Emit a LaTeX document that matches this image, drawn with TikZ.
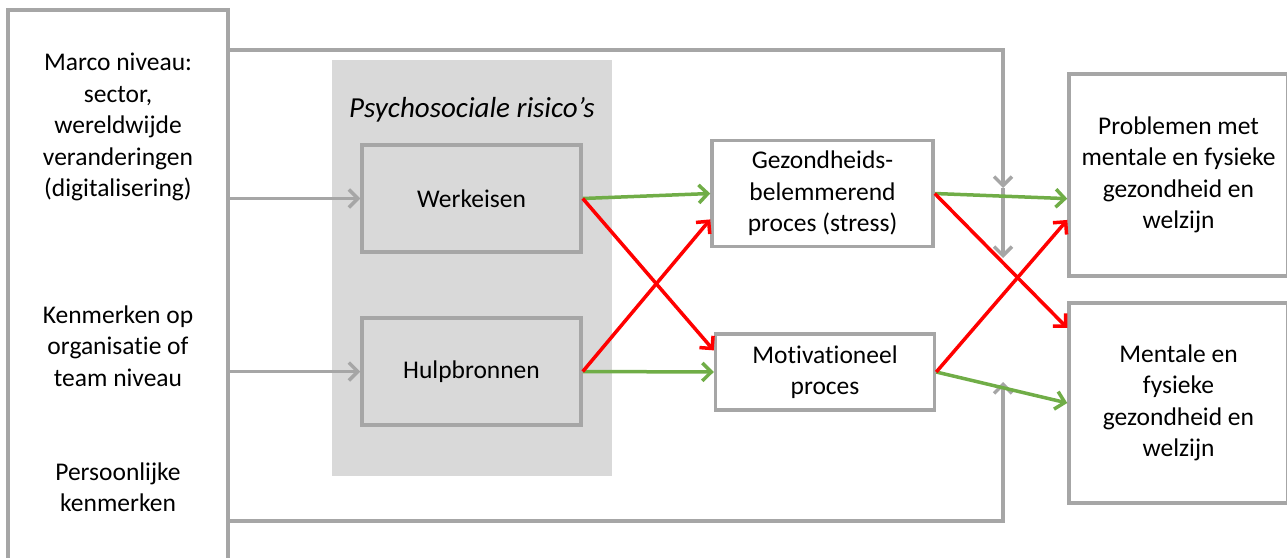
\documentclass[tikz,border=0pt]{standalone}
\usepackage{fontspec}
\setmainfont{Carlito}[Ligatures=NoCommon]
\usetikzlibrary{arrows.meta}

\definecolor{lijngrijs}{HTML}{A6A6A6}
\definecolor{vlakgrijs}{HTML}{D9D9D9}
\definecolor{pijlgroen}{HTML}{70AD47}
\definecolor{pijlrood}{HTML}{FF0000}

\begin{document}
\begin{tikzpicture}[x=1pt, y=-1pt,
		font=\fontsize{25.5}{31.5}\selectfont,
		kader/.style={draw=lijngrijs, line width=3.5pt, align=center, inner sep=0pt},
		tekst/.style={align=center, inner sep=0pt},
		grijspijl/.style={draw=lijngrijs, line width=3.5pt, -{Straight Barb[length=9pt, width=18pt]}},
		groenpijl/.style={draw=pijlgroen, line width=3.5pt, -{Straight Barb[length=9pt, width=18pt]}},
		roodpijl/.style={draw=pijlrood, line width=3.5pt, -{Straight Barb[length=9pt, width=18pt]}}]
		
		%picture frame
		\useasboundingbox (0,0) rectangle (1287,557);
		\clip (0,0) rectangle (1287,557);
		
		%definition of bends in the grey lines
		\coordinate (topbend) at (1003,50);
		\coordinate (mod1) at (1003,188);
		\coordinate (mod2) at (1003,258);
		\coordinate (botbend) at (1003,521);
		\coordinate (mod3) at (1003,382);
		
		%shaded area
		\fill [vlakgrijs] (332,60) rectangle (612,476);
		\node [tekst, font=\fontsize{29}{34}\selectfont\itshape] (risico) at (472,110) {Psychosociale risico’s};
		
		%left column
		\node [kader, minimum width=220, minimum height=600] (factoren) at (118,310) {};
		\node [tekst] (macro) at (118,127) {Marco niveau:\\sector,\\wereldwijde\\veranderingen\\(digitalisering)};
		\node [tekst] (organisatie) at (118,346) {Kenmerken op\\organisatie of\\team niveau};
		\node [tekst] (persoon) at (118,487) {Persoonlijke\\kenmerken};
		
		%boxes
		\node [kader, minimum width=219, minimum height=107] (werk) at (471.5,198.5) {Werkeisen};
		\node [kader, minimum width=219, minimum height=107] (hulp) at (471.5,371.5) {Hulpbronnen};
		\node [kader, minimum width=221, minimum height=106] (gez) at (822.5,193.5) {Gezondheids-\\belemmerend\\proces (stress)};
		\node [kader, minimum width=219, minimum height=76] (mot) at (825,372) {Motivationeel\\proces};
		\node [kader, minimum width=219, minimum height=202] (prob) at (1178.5,175) {Problemen met\\mentale en fysieke\\gezondheid en\\welzijn};
		\node [kader, minimum width=219, minimum height=200] (ment) at (1178.5,403) {Mentale en\\fysieke\\gezondheid en\\welzijn};
		
		%grey arrows
		\draw [grijspijl] (factoren.east |- werk) -- (werk.west);
		\draw [grijspijl] (factoren.east |- hulp) -- (hulp.west);
		\draw [grijspijl] (factoren.east |- topbend) -- (topbend) -- (mod1);
		\draw [grijspijl] (mod1) -- (mod2);
		\draw [grijspijl] (factoren.east |- botbend) -- (botbend) -- (mod3);
		
		%green arrows
		\draw [groenpijl] (werk.east) -- (gez.west);
		\draw [groenpijl] (hulp.east) -- (mot.west);
		\draw [groenpijl] (gez.east) -- (prob.192);
		\draw [groenpijl] (mot.east) -- (ment.west);
		
		%red arrows
		\draw [roodpijl] (werk.east) -- (mot.169);
		\draw [roodpijl] (hulp.east) -- (gez.193);
		\draw [roodpijl] (gez.east) -- (ment.146);
		\draw [roodpijl] (mot.east) -- (prob.202);
	\end{tikzpicture}
\end{document}
